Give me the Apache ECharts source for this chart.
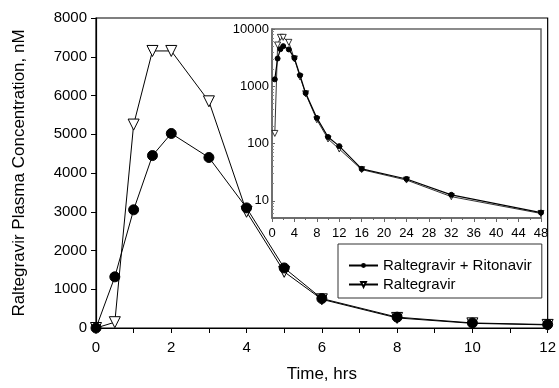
<!DOCTYPE html>
<html>
<head>
<meta charset="utf-8">
<script src="https://cdn.jsdelivr.net/npm/echarts@6/dist/echarts.min.js"></script>
<style>
  html, body { margin: 0; padding: 0; background: #fff; }
  #chart { width: 559px; height: 388px; }
</style>
</head>
<body>
<div id="chart"></div>
<script>
// sampling times (hrs) for the main 0-12 h plot
var times = [0, 0.5, 1, 1.5, 2, 3, 4, 5, 6, 8, 10, 12];
var withRitonavir = [0, 1320, 3050, 4450, 5020, 4400, 3100, 1550, 760, 280, 130, 90];
var raltegravirAlone = [0, 150, 5250, 7150, 7150, 5850, 3000, 1450, 740, 260, 120, 80];

// extra late time points shown only in the inset (log scale, 0-48 h)
var lateTimes = [16, 24, 32, 48];
var lateWithRitonavir = [36, 24, 12.7, 6.2];
var lateRaltegravirAlone = [35, 23, 11.8, 6.0];

var seriesNames = ['Raltegravir + Ritonavir', 'Raltegravir'];
var font = 'Liberation Sans, Arial, sans-serif';

function pairs(xs, ys) {
  return xs.map(function (x, i) { return [x, ys[i]]; });
}

// inset skips t=0 (zero can't go on a log axis)
var insetTimes = times.slice(1).concat(lateTimes);
var insetRit = withRitonavir.slice(1).concat(lateWithRitonavir);
var insetAlone = raltegravirAlone.slice(1).concat(lateRaltegravirAlone);

var myChart = echarts.init(document.getElementById('chart'));

var option = {
  backgroundColor: '#fff',
  animation: false,
  textStyle: { fontFamily: font, color: '#000' },
  legend: {
    orient: 'vertical',
    left: 338,
    top: 244,
    width: 205,
    padding: [14, 10, 6, 10],
    itemWidth: 29,
    itemHeight: 6,
    itemGap: 4,
    backgroundColor: '#fff',
    borderColor: '#333',
    borderWidth: 1,
    borderRadius: 0,
    textStyle: { fontFamily: font, fontSize: 15, color: '#000' },
    data: seriesNames
  },
  grid: [{
    left: 96, right: 9, top: 18, bottom: 51,
    show: true, borderColor: '#000', borderWidth: 1.2
  }, {
    left: 272, top: 29, width: 269, height: 189,
    show: true, backgroundColor: '#fff', borderColor: '#666', borderWidth: 1.5, z: 5
  }],
  xAxis: [{
    gridIndex: 0,
    type: 'value',
    min: 0, max: 12, interval: 1,
    name: 'Time, hrs',
    nameLocation: 'middle',
    nameGap: 38,
    nameTextStyle: { fontSize: 17, fontFamily: font, color: '#000' },
    axisLine: { onZero: false, lineStyle: { color: '#000', width: 1.2 } },
    axisTick: { show: true, length: 5, lineStyle: { color: '#000' } },
    axisLabel: {
      fontSize: 15, color: '#000', margin: 12,
      formatter: function (v) { return v % 2 === 0 ? String(v) : ''; }
    },
    splitLine: { show: false }
  }, {
    gridIndex: 1,
    type: 'value',
    min: 0, max: 48, interval: 4,
    axisLine: { onZero: false, lineStyle: { color: '#666', width: 1.5 } },
    axisTick: { show: true, length: 4, lineStyle: { color: '#666' } },
    minorTick: { show: true, splitNumber: 2, length: 2, lineStyle: { color: '#666' } },
    axisLabel: { fontSize: 13, color: '#000', margin: 9 },
    splitLine: { show: false },
    z: 6
  }],
  yAxis: [{
    gridIndex: 0,
    type: 'value',
    min: 0, max: 8000, interval: 1000,
    name: 'Raltegravir Plasma Concentration, nM',
    nameLocation: 'middle',
    nameGap: 68,
    nameTextStyle: { fontSize: 17, fontFamily: font, color: '#000' },
    axisLine: { show: true, lineStyle: { color: '#000', width: 1.2 } },
    axisTick: { show: true, length: 5, lineStyle: { color: '#000' } },
    axisLabel: {
      fontSize: 15, color: '#000', margin: 9,
      formatter: function (v) { return String(v); }
    },
    splitLine: { show: false }
  }, {
    gridIndex: 1,
    type: 'log',
    logBase: 10,
    min: 5, max: 10000,
    axisLine: { show: true, lineStyle: { color: '#666', width: 1.5 } },
    axisTick: { show: true, inside: true, length: 3, lineStyle: { color: '#666' } },
    minorTick: { show: true, splitNumber: 9, length: 2, lineStyle: { color: '#888' } },
    axisLabel: {
      fontSize: 13, color: '#000', margin: 3,
      formatter: function (v) {
        var p = Math.log10(v);
        return Math.abs(p - Math.round(p)) < 1e-6 ? String(Math.round(v)) : '';
      }
    },
    splitLine: { show: false },
    z: 6
  }],
  series: [{
    name: seriesNames[0],
    type: 'line',
    xAxisIndex: 0, yAxisIndex: 0,
    data: pairs(times, withRitonavir),
    symbol: 'circle',
    symbolSize: 10,
    lineStyle: { color: '#000', width: 1 },
    itemStyle: { color: '#000', borderColor: '#000' },
    z: 3
  }, {
    name: seriesNames[1],
    type: 'line',
    xAxisIndex: 0, yAxisIndex: 0,
    data: pairs(times, raltegravirAlone),
    symbol: 'triangle',
    symbolRotate: 180,
    symbolSize: 11,
    lineStyle: { color: '#000', width: 1 },
    itemStyle: { color: '#fff', borderColor: '#000', borderWidth: 1 },
    z: 2
  }, {
    name: seriesNames[0],
    type: 'line',
    xAxisIndex: 1, yAxisIndex: 1,
    data: pairs(insetTimes, insetRit),
    symbol: 'circle',
    symbolSize: 5,
    lineStyle: { color: '#000', width: 1.2 },
    itemStyle: { color: '#000', borderColor: '#000' },
    z: 8
  }, {
    name: seriesNames[1],
    type: 'line',
    xAxisIndex: 1, yAxisIndex: 1,
    data: pairs(insetTimes, insetAlone),
    symbol: 'triangle',
    symbolRotate: 180,
    symbolSize: 6,
    lineStyle: { color: '#000', width: 0.8 },
    itemStyle: { color: '#fff', borderColor: '#000', borderWidth: 0.8 },
    z: 7
  }]
};

myChart.setOption(option);
</script>
</body>
</html>
